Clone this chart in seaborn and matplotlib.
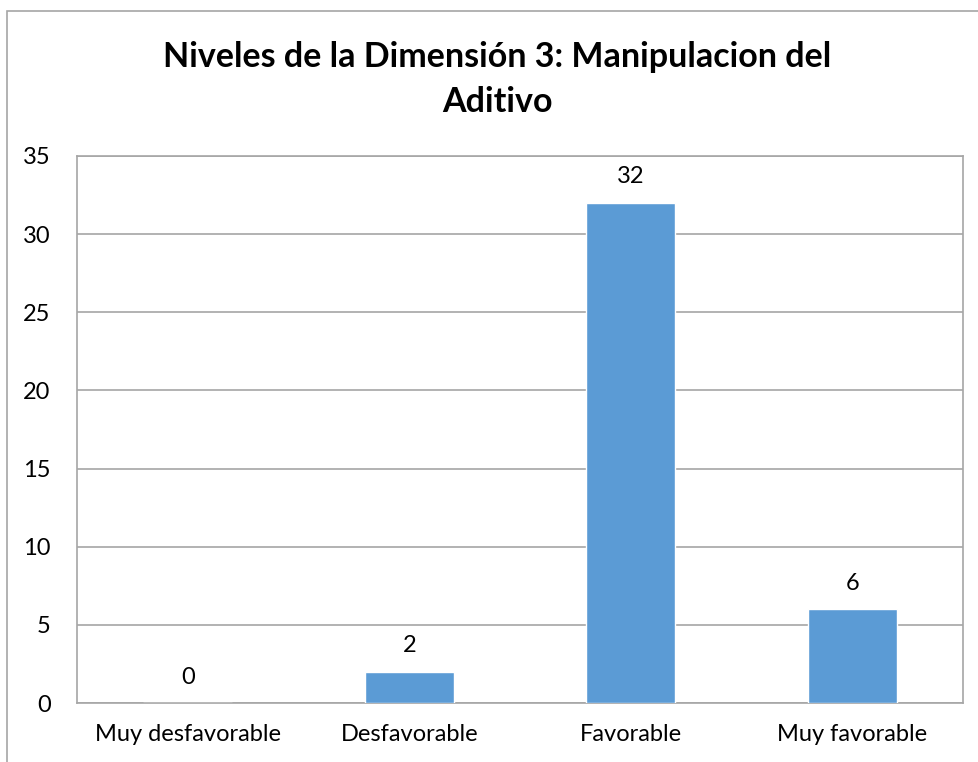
#!/usr/bin/env python3
"""Bar chart: Niveles de la Dimension 3 - Manipulacion del Aditivo."""

import matplotlib
matplotlib.use("Agg")
import matplotlib.pyplot as plt
import seaborn as sns
import pandas as pd
from matplotlib.patches import Rectangle

# Data
categorias = ["Muy desfavorable", "Desfavorable", "Favorable", "Muy favorable"]
valores = [0, 2, 32, 6]
y_ticks = [0, 5, 10, 15, 20, 25, 30, 35]
titulo = ["Niveles de la Dimensión 3: Manipulacion del", "Aditivo"]

BAR_COLOR = "#5B9BD5"
GRID_COLOR = "#A6A6A6"

sns.set_style("white")
plt.rcParams['font.family'] = ['Lato', 'DejaVu Sans']

df = pd.DataFrame({"nivel": categorias, "n": valores})

W, H = 979, 762
fig = plt.figure(figsize=(W / 100, H / 100), dpi=100)
ax = fig.add_axes([77 / W, 1 - 703 / H, (963 - 77) / W, (703 - 156) / H])

sns.barplot(data=df, x="nivel", y="n", color=BAR_COLOR, width=0.4,
            saturation=1, ax=ax, zorder=3)

ax.set_ylim(0, 35)
ax.set_yticks(y_ticks)
ax.set_xlim(-0.5, len(categorias) - 0.5)
ax.yaxis.grid(True, color=GRID_COLOR, linewidth=1.2, zorder=0)
ax.set_axisbelow(True)
for s in ax.spines.values():
    s.set_color(GRID_COLOR)
    s.set_linewidth(1.2)
ax.tick_params(axis='both', length=0, labelsize=17, colors="black")
ax.tick_params(axis='x', pad=15)
ax.tick_params(axis='y', pad=19)
ax.set_xlabel("")
ax.set_ylabel("")

# value labels
for i, v in enumerate(valores):
    ax.annotate(str(v), (i, v), xytext=(0, 14), textcoords="offset points",
                ha="center", va="baseline", fontsize=17, color="black")

# title, two lines
fig.text(497 / W, 1 - 67 / H, titulo[0], ha="center", va="baseline",
         fontsize=24.5, fontweight="bold", color="black")
fig.text(497 / W, 1 - 112 / H, titulo[1], ha="center", va="baseline",
         fontsize=24.5, fontweight="bold", color="black")

# outer chart frame (partially cut off in the reference)
fig.patches.append(Rectangle((7 / W, -0.1), 1.2, 1 - 11 / H + 0.1,
                             transform=fig.transFigure, fill=False,
                             edgecolor=GRID_COLOR, linewidth=1.2))

fig.savefig("out.png", dpi=100)
